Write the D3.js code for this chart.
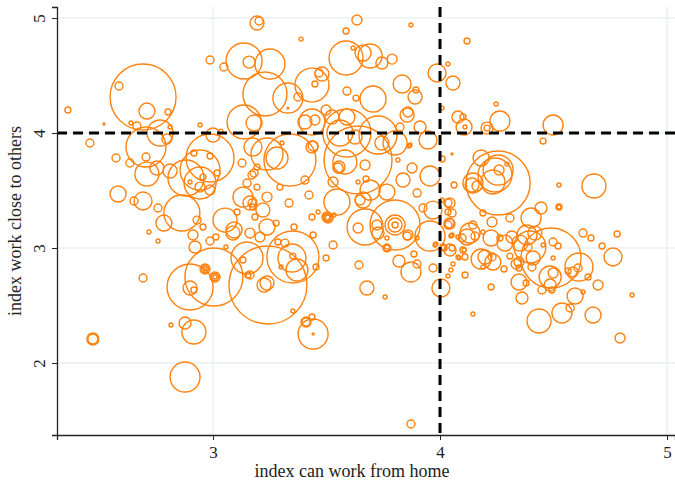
<!DOCTYPE html>
<html>
<head>
<meta charset="utf-8">
<script src="https://cdn.jsdelivr.net/npm/d3@7"></script>
<style>
  body { margin: 0; background: #fff; }
  text { font-family: "Liberation Serif", "DejaVu Serif", serif; fill: #222; }
</style>
</head>
<body>
<div class="chart"></div>
<script>
// index can work from home (x), one value per occupation
const wfh = [
  3.194, 3.203, 2.987, 3.048, 3.137, 3.159, 3.251, 2.692, 2.586, 2.709,
  2.802, 2.361, 2.520, 2.639, 2.665, 2.767, 2.797, 2.811, 2.458, 2.705,
  2.943, 3.000, 3.035, 2.573, 2.634, 2.705, 2.709, 2.753, 2.811, 2.987,
  2.943, 2.943, 2.881, 2.916, 2.987, 2.582, 2.692, 2.652, 2.758, 2.956,
  2.943, 2.987, 2.899, 3.018, 2.863, 2.784, 2.718, 2.758, 2.930, 2.956,
  2.912, 2.921, 2.987, 3.013, 3.057, 3.053, 3.088, 3.132, 3.150, 3.106,
  3.172, 3.176, 3.185, 3.220, 3.238, 3.172, 3.128, 3.194, 3.295, 3.176,
  3.238, 3.339, 3.137, 3.181, 3.229, 3.093, 3.163, 3.207, 3.317, 3.286,
  3.238, 3.278, 3.357, 3.436, 3.507, 3.507, 3.352, 3.348, 3.370, 3.352,
  3.300, 3.238, 3.441, 3.454, 3.529, 3.498, 3.639, 3.643, 3.678, 3.758,
  3.802, 3.802, 3.802, 3.802, 3.727, 3.766, 3.766, 3.766, 3.855, 3.885,
  3.819, 3.872, 3.899, 3.956, 3.982, 3.969, 4.004, 4.040, 4.048, 4.044,
  4.053, 4.018, 4.057, 4.048, 4.084, 4.035, 4.106, 4.110, 4.097, 3.352,
  3.410, 3.410, 3.436, 3.441, 3.441, 3.872, 3.004, 2.965, 2.965, 2.965,
  3.009, 3.009, 3.009, 2.899, 2.899, 2.916, 3.242, 3.163, 3.225, 2.692,
  2.877, 2.916, 2.815, 2.471, 2.471, 2.877, 3.150, 3.154, 3.132, 3.405,
  3.436, 3.449, 3.524, 3.590, 3.405, 3.436, 3.639, 3.581, 3.551, 3.670,
  3.727, 3.744, 3.802, 3.626, 3.529, 3.639, 3.674, 3.692, 3.766, 3.661,
  3.837, 3.877, 3.956, 4.009, 4.053, 3.899, 3.925, 3.969, 4.035, 4.062,
  4.009, 3.546, 3.423, 3.335, 3.463, 3.502, 3.502, 3.533, 3.670, 3.722,
  3.859, 3.899, 3.978, 4.013, 4.101, 4.079, 4.079, 4.053, 4.035, 4.053,
  4.132, 4.079, 4.101, 4.110, 3.912, 3.947, 3.868, 3.815, 3.859, 4.145,
  3.634, 3.586, 3.872, 3.388, 4.119, 3.586, 3.661, 3.692, 3.617, 3.744,
  3.789, 3.436, 3.480, 3.467, 3.449, 3.330, 3.374, 3.590, 3.630, 3.705,
  3.833, 3.894, 3.890, 3.987, 4.035, 4.057, 4.009, 3.330, 3.498, 3.590,
  3.559, 3.855, 3.824, 4.106, 3.863, 3.441, 3.282, 3.555, 3.648, 3.304,
  4.247, 4.264, 4.207, 4.207, 4.498, 4.454, 4.256, 4.256, 4.260, 4.242,
  4.181, 4.295, 4.141, 4.163, 4.233, 4.524, 4.678, 4.044, 4.035, 4.189,
  4.229, 4.308, 4.401, 4.445, 4.524, 4.524, 4.044, 4.145, 4.119, 4.154,
  4.189, 4.225, 4.264, 4.286, 4.317, 4.352, 4.383, 4.418, 4.396, 4.489,
  4.410, 4.388, 4.454, 4.498, 4.520, 4.498, 4.405, 4.348, 4.335, 4.348,
  4.282, 4.308, 4.198, 4.181, 4.229, 4.233, 4.189, 4.110, 4.348, 4.379,
  4.485, 4.498, 4.485, 4.449, 4.493, 4.595, 4.608, 4.586, 4.564, 4.612,
  4.652, 4.696, 4.630, 4.665, 4.714, 4.780, 4.762, 4.630, 4.225, 4.361,
  4.573, 4.537, 4.674, 4.436, 4.793, 4.846, 4.145, 3.163, 3.181, 3.194
];

// index work close to others (y)
const closeness = [
  4.957, 4.974, 4.635, 4.574, 4.626, 4.617, 4.600, 4.313, 4.409, 4.191,
  4.183, 4.200, 4.078, 4.087, 4.061, 4.000, 3.948, 4.052, 3.913, 3.878,
  4.070, 3.983, 4.017, 3.783, 3.739, 3.791, 3.643, 3.696, 3.670, 3.783,
  3.678, 3.565, 3.609, 3.826, 3.800, 3.470, 3.409, 3.409, 3.348, 3.617,
  3.530, 3.504, 3.574, 3.652, 3.304, 3.217, 3.139, 3.061, 3.243, 3.183,
  3.113, 3.009, 3.061, 3.096, 3.009, 3.243, 3.130, 3.443, 3.565, 3.313,
  3.391, 3.357, 3.270, 3.330, 3.443, 3.635, 3.739, 3.530, 3.530, 3.878,
  3.817, 3.765, 4.096, 4.087, 4.339, 3.157, 3.130, 3.096, 3.043, 3.052,
  3.183, 3.217, 3.183, 3.270, 3.261, 3.261, 2.922, 2.913, 2.809, 2.930,
  2.835, 2.696, 3.113, 2.835, 3.026, 2.913, 3.174, 2.852, 2.652, 2.574,
  3.200, 3.200, 3.200, 3.200, 3.130, 3.087, 3.000, 3.000, 3.104, 2.948,
  2.887, 2.791, 2.861, 3.104, 3.035, 2.826, 2.652, 3.217, 3.104, 2.983,
  3.000, 3.000, 2.861, 2.809, 2.913, 2.757, 2.983, 2.765, 3.087, 2.452,
  2.357, 2.357, 2.400, 2.252, 2.252, 1.470, 2.748, 2.817, 2.817, 2.817,
  2.748, 2.748, 2.748, 2.661, 2.652, 2.635, 2.678, 2.765, 2.678, 2.739,
  2.348, 2.270, 2.330, 2.209, 2.209, 1.878, 2.913, 2.765, 2.896, 4.096,
  4.096, 4.113, 4.139, 4.139, 3.591, 3.878, 3.765, 3.748, 3.696, 3.722,
  3.983, 3.913, 3.913, 3.965, 3.574, 3.574, 3.600, 3.504, 3.487, 3.417,
  3.591, 3.696, 3.626, 3.774, 3.817, 3.478, 3.348, 3.330, 3.391, 3.548,
  3.417, 3.400, 3.461, 3.391, 3.313, 3.270, 3.270, 3.287, 3.183, 3.200,
  3.113, 3.087, 3.026, 3.009, 2.983, 2.922, 3.096, 3.113, 3.200, 3.304,
  3.130, 4.139, 4.139, 4.052, 4.052, 3.939, 3.896, 3.765, 4.183, 3.565,
  4.983, 4.887, 4.939, 4.817, 4.800, 4.652, 4.696, 4.670, 4.739, 4.609,
  4.643, 4.417, 4.513, 4.522, 4.426, 4.304, 4.313, 4.365, 4.304, 4.296,
  4.426, 4.374, 4.313, 4.522, 4.600, 4.435, 4.217, 4.217, 4.200, 4.000,
  4.000, 4.157, 4.052, 4.052, 3.887, 3.887, 3.783, 3.704, 3.417, 3.913,
  4.252, 4.104, 4.043, 4.043, 4.070, 3.930, 3.565, 3.678, 3.678, 3.635,
  3.783, 3.730, 3.548, 3.539, 3.574, 3.548, 3.539, 3.391, 3.313, 3.304,
  3.226, 3.261, 3.261, 3.348, 3.357, 3.357, 3.209, 3.200, 3.096, 3.104,
  3.139, 3.087, 3.087, 3.043, 3.096, 3.043, 3.113, 3.130, 3.009, 2.913,
  2.913, 3.009, 3.026, 3.052, 3.017, 2.913, 2.835, 2.878, 2.861, 2.826,
  2.817, 2.930, 2.922, 2.904, 2.922, 2.878, 2.835, 2.922, 2.704, 2.696,
  2.748, 2.783, 2.678, 2.635, 2.635, 2.583, 2.826, 2.791, 2.800, 2.835,
  2.748, 2.678, 3.130, 3.087, 3.017, 3.122, 2.922, 2.617, 2.661, 2.565,
  2.478, 2.435, 2.417, 2.365, 2.217, 2.591, 2.426, 3.391, 3.652, 3.704
];

// employment weight of each occupation (marker area)
const employment = [
  3.06, 1, 1, 1, 20.25, 2.25, 14.06, 68.06, 1, 4,
  0.56, 0.56, 0.06, 0.25, 1, 10.56, 1.56, 0.25, 1, 25,
  0.25, 3.06, 0.25, 1, 1, 1, 9, 3.06, 3.06, 36,
  25, 16, 20.25, 0.56, 0.56, 4, 5.06, 1, 1, 0.56,
  1.56, 1.56, 0.25, 0.56, 20.25, 4, 0.25, 0.25, 1, 0.56,
  1.56, 2.25, 1, 0.56, 0.25, 9, 3.06, 6.25, 1, 0.56,
  1, 0.56, 0.56, 3.06, 1.56, 1, 1, 0.56, 0.56, 5.06,
  16, 42.25, 18.06, 4, 30.25, 4, 1.56, 1.56, 1, 0.56,
  4, 0.56, 0.56, 0.56, 1.56, 0.56, 42.25, 12.25, 7.56, 0.56,
  0.25, 3.06, 0.56, 0.56, 1, 0.56, 1.56, 1, 3.06, 0.25,
  39.06, 6.25, 3.06, 0.56, 2.25, 0.25, 1, 0.56, 1, 0.56,
  2.25, 6.25, 1, 14.06, 0.25, 1, 5.06, 1.56, 0.25, 2.25,
  0.56, 0.56, 0.25, 0.25, 0.25, 0.25, 0.25, 0.56, 1, 0.25,
  1.56, 1, 0.56, 14.06, 0.06, 1, 52.56, 1.56, 0.77, 0.25,
  1.56, 0.77, 0.25, 33.06, 3.06, 0.56, 95.06, 1, 3.06, 1,
  2.25, 9, 0.25, 2.25, 1.56, 14.06, 16, 0.56, 0.56, 3.06,
  10.56, 1.56, 3.06, 4, 1, 2.25, 72.25, 9, 1.56, 1.56,
  22.56, 3.06, 9, 3.06, 1.56, 0.25, 0.56, 6.25, 4, 4,
  3.06, 1.56, 6.25, 0.56, 0.06, 1, 1, 5.06, 1, 0.56,
  0.25, 10.56, 1, 1, 0.25, 1.56, 0.56, 0.25, 20.25, 1.56,
  1.56, 0.25, 0.25, 0.56, 0.56, 0.25, 0.25, 0.25, 1, 1,
  6.25, 2.25, 0.56, 0.25, 2.25, 5.06, 0.25, 0.25, 1.56, 6.25,
  1.56, 0.56, 0.25, 0.25, 0.56, 18.06, 4, 9, 0.25, 2.25,
  1.56, 18.06, 3.06, 1, 0.56, 14.06, 1, 1, 0.56, 10.56,
  5.06, 0.56, 3.06, 5.06, 0.25, 3.06, 0.25, 0.06, 1.56, 36,
  10.56, 3.06, 1, 4, 0.25, 1.56, 7.56, 2.25, 1.56, 0.25,
  0.25, 6.25, 2.25, 0.56, 6.25, 0.56, 64, 14.06, 1.56, 18.06,
  4, 0.25, 3.06, 1.56, 9, 0.25, 9, 1.56, 0.56, 0.56,
  1.56, 1, 6.25, 2.25, 0.56, 0.25, 1.56, 1, 4, 1,
  0.25, 4, 0.56, 4, 2.25, 4, 6.25, 3.06, 16, 56.25,
  3.06, 1, 0.25, 1, 0.56, 0.25, 1, 1.56, 1.56, 0.56,
  0.56, 0.56, 3.06, 6.25, 1, 4, 0.25, 0.56, 4, 0.56,
  7.56, 1.56, 2.25, 1, 0.56, 4, 1, 1.56, 0.56, 12.25,
  0.56, 1.56, 1, 0.56, 0.56, 0.56, 5.06, 0.25, 0.56, 2.25,
  1, 6.25, 4, 9, 1.56, 0.25, 0.25, 3.06, 1, 0.56
];

const xTicks = [3, 4, 5];
const yTicks = [2, 3, 4, 5];
const cutoff = 4;

const width = 675, height = 481;
const plotL = 57, plotR = 675, plotT = 7, plotB = 435;

const n = Math.min(wfh.length, closeness.length, employment.length);
const occ = d3.range(n).map(i => ({ x: wfh[i], y: closeness[i], w: employment[i] }));

const x = d3.scaleLinear().domain([2.313, 5.035]).range([plotL, plotR]);
const y = d3.scaleLinear().domain([1.374, 5.096]).range([plotB, plotT]);
const r = d3.scaleSqrt().domain([0, 100]).range([0, 40]);

const svg = d3.select(".chart").append("svg")
  .attr("width", width)
  .attr("height", height);

// grid
const grid = svg.append("g").attr("stroke", "#e9f0f2").attr("stroke-width", 1.5);
grid.selectAll(".gy").data(yTicks).enter().append("line")
  .attr("x1", plotL).attr("x2", plotR)
  .attr("y1", d => y(d)).attr("y2", d => y(d));
grid.selectAll(".gx").data(xTicks).enter().append("line")
  .attr("x1", d => x(d)).attr("x2", d => x(d))
  .attr("y1", plotT).attr("y2", plotB);

// bubbles
svg.append("g")
  .selectAll("circle")
  .data(occ)
  .enter()
  .append("circle")
  .attr("cx", d => x(d.x))
  .attr("cy", d => y(d.y))
  .attr("r", d => Math.max(r(d.w), 1))
  .attr("fill", "none")
  .attr("stroke", "#ff820f")
  .attr("stroke-width", 1.4);

// cutoff lines
svg.append("line")
  .attr("x1", plotL).attr("x2", plotR)
  .attr("y1", y(cutoff)).attr("y2", y(cutoff))
  .attr("stroke", "#000").attr("stroke-width", 3).attr("stroke-dasharray", "10,6");
svg.append("line")
  .attr("x1", x(cutoff)).attr("x2", x(cutoff))
  .attr("y1", plotT).attr("y2", plotB)
  .attr("stroke", "#000").attr("stroke-width", 3).attr("stroke-dasharray", "10,6");

// axes
const xAxis = svg.append("g")
  .attr("transform", `translate(0,${plotB})`)
  .call(d3.axisBottom(x).tickValues(xTicks).tickFormat(d3.format("d")).tickSizeOuter(0).tickSize(5));
xAxis.select(".domain").attr("stroke", "#222").attr("stroke-width", 1.3);
xAxis.selectAll(".tick line").attr("stroke", "#222");
xAxis.selectAll(".tick text").attr("font-size", 17).attr("dy", "0.9em");

const yAxis = svg.append("g")
  .attr("transform", `translate(${plotL},0)`)
  .call(d3.axisLeft(y).tickValues(yTicks).tickFormat(d3.format("d")).tickSizeOuter(0).tickSize(5));
yAxis.select(".domain").attr("stroke", "#222").attr("stroke-width", 1.3);
yAxis.selectAll(".tick line").attr("stroke", "#222");
yAxis.selectAll(".tick text")
  .attr("font-size", 17)
  .attr("x", 0).attr("dy", 0)
  .attr("text-anchor", "middle")
  .attr("transform", "translate(-12,0) rotate(-90)");

svg.append("text")
  .attr("x", 352).attr("y", 477)
  .attr("text-anchor", "middle")
  .attr("font-size", 18)
  .text("index can work from home");

svg.append("text")
  .attr("transform", `translate(21,${(plotT + plotB) / 2}) rotate(-90)`)
  .attr("text-anchor", "middle")
  .attr("font-size", 18)
  .text("index work close to others");
</script>
</body>
</html>
